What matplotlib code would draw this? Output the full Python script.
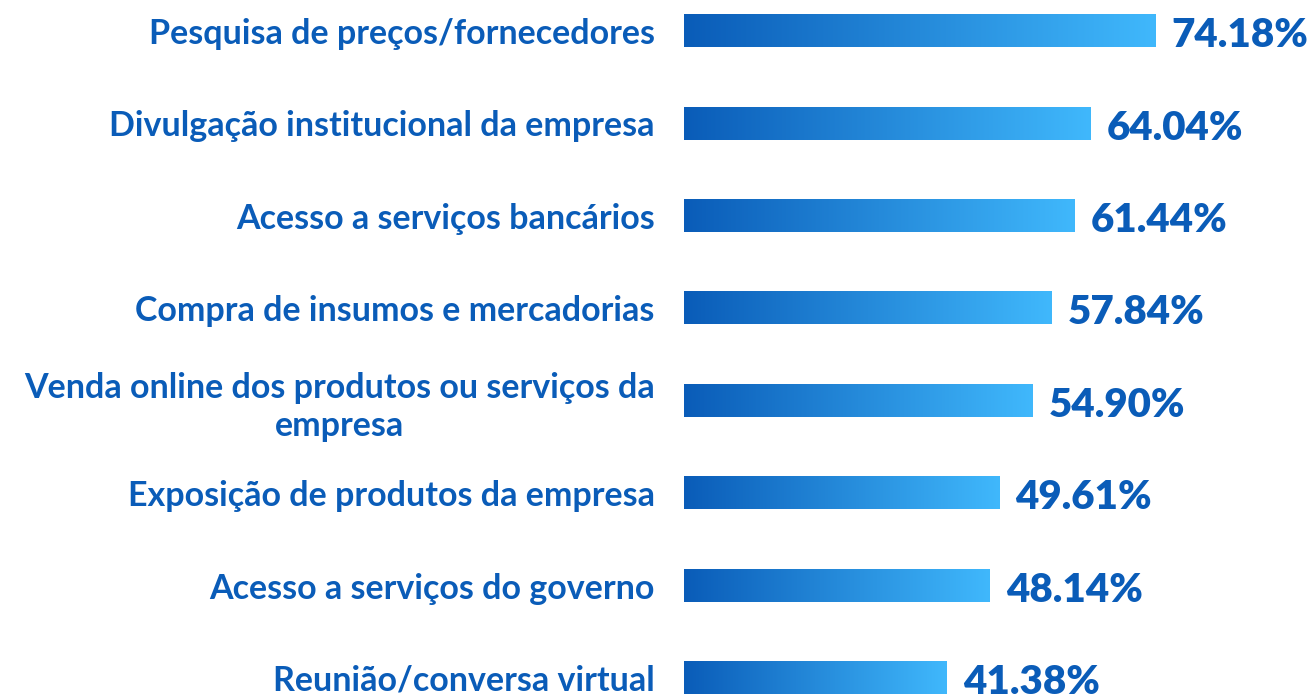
import numpy as np
import matplotlib.pyplot as plt

categorias = [
    'Pesquisa de preços/fornecedores',
    'Divulgação institucional da empresa',
    'Acesso a serviços bancários',
    'Compra de insumos e mercadorias',
    'Venda online dos produtos ou serviços da\nempresa',
    'Exposição de produtos da empresa',
    'Acesso a serviços do governo',
    'Reunião/conversa virtual',
]
valores = [74.18, 64.04, 61.44, 57.84, 54.90, 49.61, 48.14, 41.38]

azul_texto = '#0a5cb8'
azul_escuro = '#0a5cb8'
azul_claro = '#40b8fc'

plt.rcParams['font.family'] = ['Lato', 'DejaVu Sans']

fig = plt.figure(figsize=(13.14, 6.97), dpi=100)
ax = fig.add_axes([684 / 1314, 0, 630 / 1314, 1])

# degrade horizontal para as barras
cmap = plt.matplotlib.colors.LinearSegmentedColormap.from_list('azul', [azul_escuro, azul_claro])
grad = np.linspace(0, 1, 256).reshape(1, -1)

altura = 0.35
y = np.arange(len(categorias))
for i, v in enumerate(valores):
    ax.imshow(grad, cmap=cmap, aspect='auto', interpolation='bicubic',
              extent=[0, v, y[i] + altura / 2, y[i] - altura / 2], zorder=2)
    ax.text(v + 2.6, y[i] + 0.05, f'{v:.2f}%', va='center', ha='left',
            fontsize=29, fontweight='heavy', color=azul_texto)

ax.set_xlim(0, 99.2)
ax.set_ylim(7.206, -0.335)
ax.set_yticks(y)
ax.set_yticklabels(categorias, fontsize=24.5, fontweight='bold', color=azul_texto,
                   multialignment='center', linespacing=1.25)
ax.tick_params(axis='y', length=0, pad=21)
ax.set_xticks([])
for s in ax.spines.values():
    s.set_visible(False)

fig.savefig('out.png', dpi=100)
